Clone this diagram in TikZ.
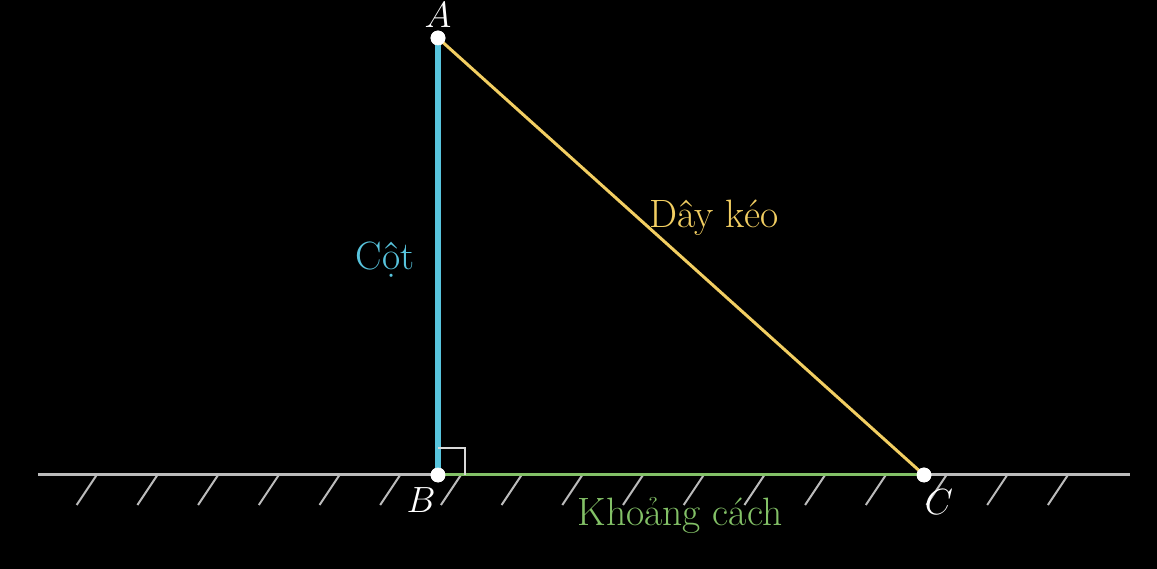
\documentclass[tikz,border=0pt]{standalone}
\usepackage{fontspec}
\definecolor{cotblue}{HTML}{58C4DD}
\definecolor{dayyellow}{HTML}{F2CE62}
\definecolor{khgreen}{HTML}{83C167}
\definecolor{groundgray}{HTML}{BBBBBB}

\begin{document}
\begin{tikzpicture}[auto]
    \tikzset{
        pt/.style={circle,fill=white,draw=white,inner sep=0pt,minimum size=2.8mm},
        lbl/.style={font=\fontsize{21}{25}\selectfont},
        txt/.style={font=\fontsize{22.5}{27}\selectfont},
        hatch/.style={draw=groundgray,line width=0.4mm}
    }
    \fill[black] (0,0) rectangle (23.14,11.38);
    \useasboundingbox (0,0) rectangle (23.14,11.38);
    % ground
    \coordinate (gl) at (0.76,1.88);
    \coordinate (gr) at (22.6,1.88);
    \draw[groundgray,line width=0.6mm] (gl) -- (gr);
    \foreach \i in {0,...,16} {
        \draw[hatch] (1.934+1.214*\i,1.88) -- ++(-0.4,-0.6);
    }
    \begin{scope}[every node/.style={pt}]
        \node (A) at (8.76,10.62) {};
        \node (B) at (8.76,1.88) {};
        \node (C) at (18.48,1.88) {};
    \end{scope}
    \draw[khgreen,line width=0.6mm] (B.center) -- (C.center);
    \draw[cotblue,line width=1.2mm] (B.center) -- (A.center);
    \draw[dayyellow,line width=0.6mm] (A.center) -- (C.center);
    \draw[white!85!black,line width=0.35mm] (B.center) ++(0,0.54) -- ++(0.54,0) -- ++(0,-0.54);
    \begin{scope}[every node/.style={pt}]
        \node at (A) {};
        \node at (B) {};
        \node at (C) {};
    \end{scope}
    % labels
    \node[lbl,white] (lA) at (8.76,11.08) {$A$};
    \node[lbl,white] (lB) at (8.42,1.38) {$B$};
    \node[lbl,white] (lC) at (18.78,1.34) {$C$};
    \node[txt,dayyellow] (lday) at (14.28,7.02) {Dây kéo};
    \node[txt,cotblue] (lcot) at (7.70,6.18) {Cột};
    \node[txt,khgreen] (lkh) at (13.6,1.08) {Khoảng cách};
\end{tikzpicture}
\end{document}
